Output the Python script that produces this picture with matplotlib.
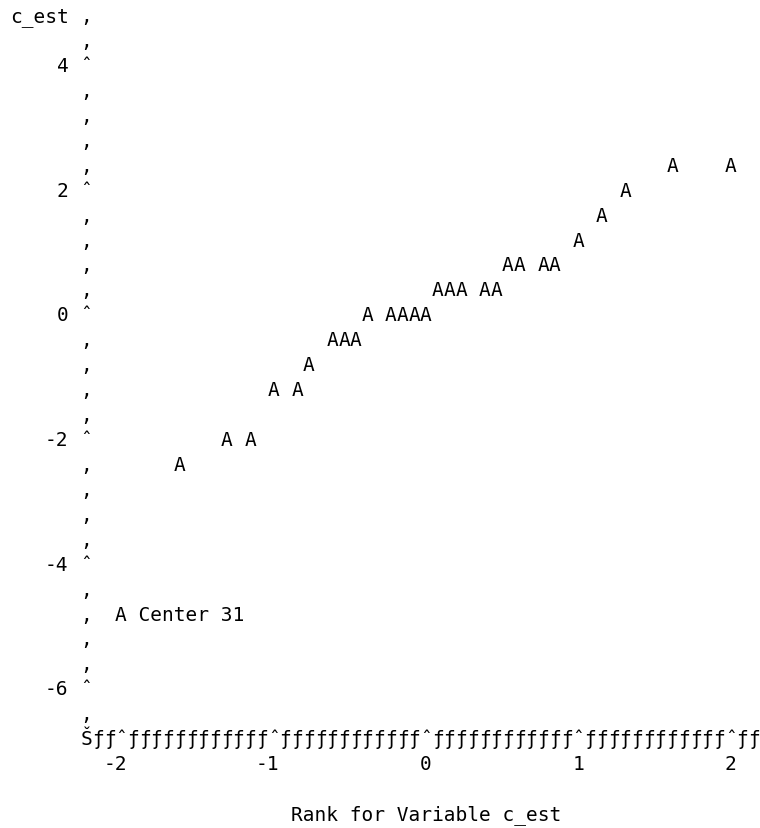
import matplotlib
matplotlib.use("Agg")
import matplotlib.pyplot as plt
from matplotlib.transforms import offset_copy

# --- dados (valores agrupados nas linhas/colunas do gráfico de texto) ---
rank_c_est = [-1.615, -1.308, -1.154, -1.0, -0.846, -0.769, -0.615, -0.538, -0.462,
              -0.385, -0.231, -0.154, -0.077, 0.0, 0.077, 0.154, 0.231, 0.385, 0.462,
              0.538, 0.615, 0.769, 0.846, 1.0, 1.154, 1.308, 1.615, 2.0]
c_est = [-2.4, -2.0, -2.0, -1.2, -1.2, -0.8, -0.4, -0.4, -0.4,
         0.0, 0.0, 0.0, 0.0, 0.0, 0.4, 0.4, 0.4, 0.4, 0.4,
         0.8, 0.8, 0.8, 0.8, 1.2, 1.6, 2.0, 2.4, 2.4]

x_ticks = [-2, -1, 0, 1, 2]
y_ticks = [4, 2, 0, -2, -4, -6]
y_label = "c_est"
x_label = "Rank for Variable c_est"
legenda = "A Center 31"
simbolo = "A"

# grade do "line printer": 13 colunas por unidade em x, 0.4 por linha em y
COLS_POR_UNIDADE = 13
PASSO_Y = 0.4


def col_x(c):
    """Converte uma coluna de caractere para o valor x (coluna 9 = x -2)."""
    return -2 + (c - 9) / COLS_POR_UNIDADE


fig = plt.figure(figsize=(7.6, 8.29), dpi=100)
ax = fig.add_axes([0, 0, 1, 1])
ax.set_xlim(-2.796, 2.192)
ax.set_ylim(-8.249, 5.051)
ax.axis("off")

# texto alinhado pela linha de base, um pouco abaixo do centro da linha
tr = offset_copy(ax.transData, fig=fig, x=0, y=-6.5, units="dots")
fonte = dict(family="DejaVu Sans Mono", fontsize=14, color="black",
             va="baseline", transform=tr)

# eixo vertical: vírgulas em cada linha, circunflexo nos ticks
n_linhas = int(round((4.8 - (-6.4)) / PASSO_Y)) + 1
for i in range(n_linhas):
    y = round(4.8 - i * PASSO_Y, 1)
    marca = "\u02c6" if any(abs(y - t) < 1e-6 for t in y_ticks) else "\u201a"
    ax.text(col_x(6), y, marca, ha="center", **fonte)

for t in y_ticks:
    ax.text(col_x(4.5), t, str(t), ha="right", **fonte)

ax.text(col_x(-0.5), 4.8, y_label, ha="left", **fonte)

# eixo horizontal
y_eixo = y_ticks[-1] - 2 * PASSO_Y
cols_ticks = [9 + COLS_POR_UNIDADE * (t - x_ticks[0]) for t in x_ticks]
ax.text(col_x(6), y_eixo, "\u0160", ha="center", **fonte)
for c in range(7, cols_ticks[-1] + 3):
    marca = "\u02c6" if c in cols_ticks else "\u0192"
    ax.text(col_x(c), y_eixo, marca, ha="center", **fonte)

for t, c in zip(x_ticks, cols_ticks):
    ax.text(col_x(c + 0.5), y_eixo - PASSO_Y, str(t), ha="right", **fonte)

ax.text(0, y_eixo - 3 * PASSO_Y, x_label, ha="center", **fonte)

# legenda
ax.text(col_x(8.5), -4.8, legenda, ha="left", **fonte)

# pontos
for x, y in zip(rank_c_est, c_est):
    ax.text(x, y, simbolo, ha="center", **fonte)

fig.savefig("out.png", dpi=100, facecolor="white")
